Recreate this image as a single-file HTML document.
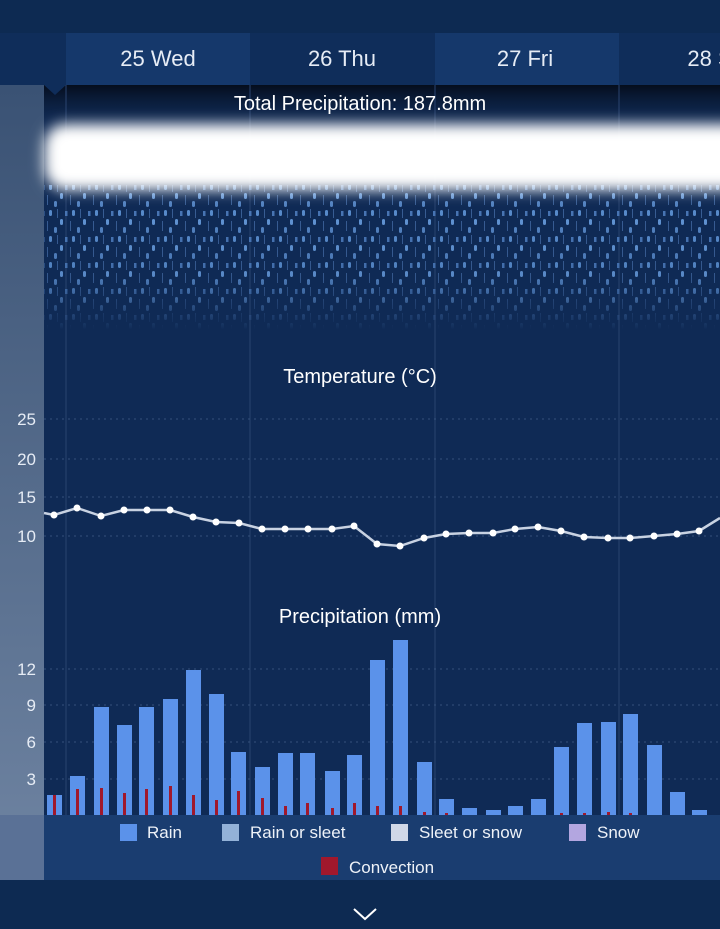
<!DOCTYPE html>
<html><head><meta charset="utf-8"><style>
html,body{margin:0;padding:0;width:720px;height:929px;overflow:hidden;background:#0d2a52;font-family:"Liberation Sans",sans-serif}
</style></head><body>
<svg width="720" height="929" viewBox="0 0 720 929" xmlns="http://www.w3.org/2000/svg" font-family="Liberation Sans, sans-serif">
<defs>
<linearGradient id="side" x1="0" y1="0" x2="0" y2="1"><stop offset="0" stop-color="#3a5274"/><stop offset="1" stop-color="#6f84a2"/></linearGradient>
<linearGradient id="topdark" x1="0" y1="0" x2="0" y2="1"><stop offset="0" stop-color="#050d1c"/><stop offset="1" stop-color="#0f2a55" stop-opacity="0"/></linearGradient>
<filter id="blur" x="-10%" y="-80%" width="120%" height="260%"><feGaussianBlur stdDeviation="7"/></filter>
<pattern id="rain" width="23" height="26" patternUnits="userSpaceOnUse">
<rect x="3" y="2" width="3" height="6" rx="1.5" fill="#5b8fd0"/><rect x="14" y="11" width="3" height="6" rx="1.5" fill="#6598d8"/><rect x="8" y="19" width="3" height="6" rx="1.5" fill="#5585c4"/><rect x="19" y="3" width="2.5" height="5" fill="#4a78b8"/><rect x="1" y="13" width="1" height="10" fill="#3a5f96"/><rect x="11" y="1" width="1" height="9" fill="#3a5f96"/>
</pattern>
<linearGradient id="rainfade" x1="0" y1="0" x2="0" y2="1"><stop offset="0" stop-color="#fff" stop-opacity="1"/><stop offset="0.65" stop-color="#fff" stop-opacity="0.85"/><stop offset="1" stop-color="#fff" stop-opacity="0"/></linearGradient>
<mask id="rm"><rect x="44" y="185" width="676" height="145" fill="url(#rainfade)"/></mask>
</defs>
<rect width="720" height="929" fill="#0d2a52"/>
<rect x="0" y="33" width="720" height="52" fill="#0f2d5a"/>
<rect x="66" y="33" width="184" height="52" fill="#15386b"/>
<rect x="435" y="33" width="184" height="52" fill="#15386b"/>
<g fill="#e6ecf5" font-size="22" text-anchor="middle">
<text x="158" y="66">25 Wed</text><text x="342" y="66">26 Thu</text><text x="525" y="66">27 Fri</text><text x="710" y="66">28 S</text>
</g>
<rect x="0" y="85" width="44" height="795" fill="url(#side)"/>
<rect x="44" y="85" width="676" height="730" fill="#0f2a55"/>
<rect x="44" y="85" width="676" height="50" fill="url(#topdark)"/>
<polygon points="44,85 66,85 55,95" fill="#0f2d5a"/>
<g stroke="#2a4470" stroke-width="1"><line x1="66" y1="85" x2="66" y2="815"/><line x1="250" y1="85" x2="250" y2="815"/><line x1="435" y1="85" x2="435" y2="815"/><line x1="619" y1="85" x2="619" y2="815"/></g>
<g mask="url(#rm)"><rect x="44" y="185" width="676" height="145" fill="url(#rain)"/></g>
<rect x="44" y="124" width="720" height="66" rx="22" fill="#fff" filter="url(#blur)"/>
<text x="360" y="110" fill="#fff" font-size="20" text-anchor="middle">Total Precipitation: 187.8mm</text>
<text x="360" y="383" fill="#fff" font-size="20" text-anchor="middle">Temperature (°C)</text>
<g stroke="#34507c" stroke-dasharray="2 4" stroke-width="1"><line x1="44" y1="419" x2="720" y2="419"/><line x1="44" y1="459" x2="720" y2="459"/><line x1="44" y1="497" x2="720" y2="497"/><line x1="44" y1="536" x2="720" y2="536"/>
<line x1="44" y1="669" x2="720" y2="669"/><line x1="44" y1="705" x2="720" y2="705"/><line x1="44" y1="742" x2="720" y2="742"/><line x1="44" y1="779" x2="720" y2="779"/></g>
<g fill="#e6ecf5" font-size="17" text-anchor="end">
<text x="36" y="425">25</text><text x="36" y="465">20</text><text x="36" y="503">15</text><text x="36" y="542">10</text>
<text x="36" y="675">12</text><text x="36" y="711">9</text><text x="36" y="748">6</text><text x="36" y="785">3</text>
</g>
<polyline fill="none" stroke="#c8d2e2" stroke-width="2.5" points="44,513 54,515 77,508 101,516 124,510 147,510 170,510 193,517 216,522 239,523 262,529 285,529 308,529 332,529 354,526 377,544 400,546 424,538 446,534 469,533 493,533 515,529 538,527 561,531 584,537 608,538 630,538 654,536 677,534 699,531 720,518"/>
<g fill="#fff">
<circle cx="54" cy="515" r="3.5"/><circle cx="77" cy="508" r="3.5"/><circle cx="101" cy="516" r="3.5"/><circle cx="124" cy="510" r="3.5"/><circle cx="147" cy="510" r="3.5"/><circle cx="170" cy="510" r="3.5"/><circle cx="193" cy="517" r="3.5"/><circle cx="216" cy="522" r="3.5"/><circle cx="239" cy="523" r="3.5"/><circle cx="262" cy="529" r="3.5"/><circle cx="285" cy="529" r="3.5"/><circle cx="308" cy="529" r="3.5"/><circle cx="332" cy="529" r="3.5"/><circle cx="354" cy="526" r="3.5"/><circle cx="377" cy="544" r="3.5"/><circle cx="400" cy="546" r="3.5"/><circle cx="424" cy="538" r="3.5"/><circle cx="446" cy="534" r="3.5"/><circle cx="469" cy="533" r="3.5"/><circle cx="493" cy="533" r="3.5"/><circle cx="515" cy="529" r="3.5"/><circle cx="538" cy="527" r="3.5"/><circle cx="561" cy="531" r="3.5"/><circle cx="584" cy="537" r="3.5"/><circle cx="608" cy="538" r="3.5"/><circle cx="630" cy="538" r="3.5"/><circle cx="654" cy="536" r="3.5"/><circle cx="677" cy="534" r="3.5"/><circle cx="699" cy="531" r="3.5"/>
</g>
<text x="360" y="623" fill="#fff" font-size="20" text-anchor="middle">Precipitation (mm)</text>
<g fill="#5b92ea">
<rect x="47" y="795" width="15" height="20"/><rect x="70" y="776" width="15" height="39"/><rect x="94" y="707" width="15" height="108"/><rect x="117" y="725" width="15" height="90"/><rect x="139" y="707" width="15" height="108"/><rect x="163" y="699" width="15" height="116"/><rect x="186" y="670" width="15" height="145"/><rect x="209" y="694" width="15" height="121"/><rect x="231" y="752" width="15" height="63"/><rect x="255" y="767" width="15" height="48"/><rect x="278" y="753" width="15" height="62"/><rect x="300" y="753" width="15" height="62"/><rect x="325" y="771" width="15" height="44"/><rect x="347" y="755" width="15" height="60"/><rect x="370" y="660" width="15" height="155"/><rect x="393" y="640" width="15" height="175"/><rect x="417" y="762" width="15" height="53"/><rect x="439" y="799" width="15" height="16"/><rect x="462" y="808" width="15" height="7"/><rect x="486" y="810" width="15" height="5"/><rect x="508" y="806" width="15" height="9"/><rect x="531" y="799" width="15" height="16"/><rect x="554" y="747" width="15" height="68"/><rect x="577" y="723" width="15" height="92"/><rect x="601" y="722" width="15" height="93"/><rect x="623" y="714" width="15" height="101"/><rect x="647" y="745" width="15" height="70"/><rect x="670" y="792" width="15" height="23"/><rect x="692" y="810" width="15" height="5"/>
</g>
<g fill="#a0182c">
<rect x="53" y="795" width="3" height="20"/><rect x="76" y="789" width="3" height="26"/><rect x="100" y="788" width="3" height="27"/><rect x="123" y="793" width="3" height="22"/><rect x="145" y="789" width="3" height="26"/><rect x="169" y="786" width="3" height="29"/><rect x="192" y="795" width="3" height="20"/><rect x="215" y="800" width="3" height="15"/><rect x="237" y="791" width="3" height="24"/><rect x="261" y="798" width="3" height="17"/><rect x="284" y="806" width="3" height="9"/><rect x="306" y="803" width="3" height="12"/><rect x="331" y="808" width="3" height="7"/><rect x="353" y="803" width="3" height="12"/><rect x="376" y="806" width="3" height="9"/><rect x="399" y="806" width="3" height="9"/><rect x="423" y="812" width="3" height="3"/><rect x="445" y="813" width="3" height="2"/><rect x="560" y="813" width="3" height="2"/><rect x="583" y="813" width="3" height="2"/><rect x="607" y="812" width="3" height="3"/><rect x="629" y="813" width="3" height="2"/>
</g>
<rect x="0" y="815" width="44" height="65" fill="#5a7196"/>
<rect x="44" y="815" width="676" height="65" fill="#1a3d70"/>
<g font-size="17" fill="#eef2f8">
<rect x="120" y="824" width="17" height="17" fill="#5b92ea"/><text x="147" y="838">Rain</text>
<rect x="222" y="824" width="17" height="17" fill="#93b2d8"/><text x="250" y="838">Rain or sleet</text>
<rect x="391" y="824" width="17" height="17" fill="#d0d8e8"/><text x="419" y="838">Sleet or snow</text>
<rect x="569" y="824" width="17" height="17" fill="#b3a6e0"/><text x="597" y="838">Snow</text>
<rect x="321" y="857" width="17" height="18" fill="#a0182c"/><text x="349" y="873">Convection</text>
</g>
<polyline points="354,909 365,919 376,909" fill="none" stroke="#fff" stroke-width="2"/>
</svg>
</body></html>
